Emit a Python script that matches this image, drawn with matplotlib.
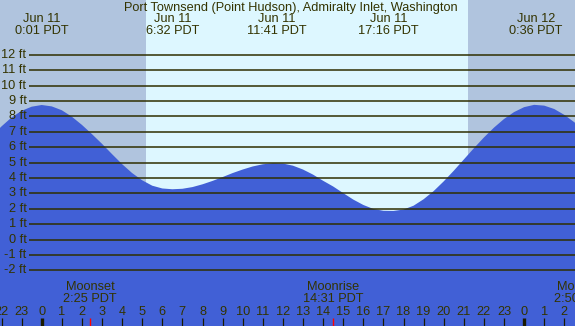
import matplotlib
matplotlib.use("Agg")
import matplotlib.pyplot as plt
import matplotlib.transforms as mtransforms

plt.rcParams['font.family'] = ['Liberation Sans', 'DejaVu Sans']

# ---- data (hours since Jun 11 00:00 PDT, heights in ft) ----
times = [-2.5, -2.0, -1.5, -1.0, -0.5, 0.0, 0.5, 1.0, 1.5, 2.0, 2.5, 3.0, 3.5, 4.0,
         4.5, 5.0, 5.5, 6.0, 6.5, 7.0, 7.5, 8.0, 8.5, 9.0, 9.5, 10.0, 10.5, 11.0,
         11.5, 12.0, 12.5, 13.0, 13.5, 14.0, 14.5, 15.0, 15.5, 16.0, 16.5, 17.0,
         17.5, 18.0, 18.5, 19.0, 19.5, 20.0, 20.5, 21.0, 21.5, 22.0, 22.5, 23.0,
         23.5, 24.0, 24.5, 25.0, 25.5, 26.0, 26.5, 27.0]
heights = [6.70, 7.35, 7.93, 8.36, 8.63, 8.74, 8.65, 8.40, 7.98, 7.45, 6.85, 6.22,
           5.55, 4.90, 4.32, 3.85, 3.50, 3.32, 3.27, 3.30, 3.41, 3.59, 3.81, 4.06,
           4.32, 4.55, 4.75, 4.89, 4.96, 4.94, 4.80, 4.55, 4.22, 3.82, 3.45, 3.02,
           2.60, 2.25, 1.99, 1.87, 1.86, 1.95, 2.20, 2.62, 3.15, 3.78, 4.47, 5.20,
           5.93, 6.63, 7.27, 7.83, 8.28, 8.60, 8.75, 8.70, 8.48, 8.10, 7.62, 7.05]

extreme_times = [0.017, 6.533, 11.683, 17.267, 24.6]
extreme_dates = ["Jun 11", "Jun 11", "Jun 11", "Jun 11", "Jun 12"]
extreme_labels = ["0:01 PDT", "6:32 PDT", "11:41 PDT", "17:16 PDT", "0:36 PDT"]

sunrise = 5.19
sunset = 21.2

moon_times = [2.417, 14.517, 26.83]
moon_names = ["Moonset", "Moonrise", "Moonset"]
moon_labels = ["2:25 PDT", "14:31 PDT", "2:50 PDT"]

ft_levels = list(range(-2, 13))
hour_ticks = list(range(-2, 27))

title = "Port Townsend (Point Hudson), Admiralty Inlet, Washington"

# ---- style ----
W, H = 575, 326
night_c = "#b0c4de"
day_c = "#ddf7ff"
water_c = "#4160d6"
line_c = "#2f2f00"
text_c = "#333300"
fs = 9.2

fig = plt.figure(figsize=(W / 100, H / 100), dpi=100)
ax = fig.add_axes([0, 0, 1, 1])
ax.set_axis_off()

x0_px, px_per_h = 41.7, 20.1
y0_px, px_per_ft = 239.6, 15.4
xmin = -x0_px / px_per_h
xmax = (W - x0_px) / px_per_h
ymax = y0_px / px_per_ft
ymin = (y0_px - H) / px_per_ft
ax.set_xlim(xmin, xmax)
ax.set_ylim(ymin, ymax)

ax.axvspan(xmin, sunrise, color=night_c, zorder=0, lw=0)
ax.axvspan(sunrise, sunset, color=day_c, zorder=0, lw=0)
ax.axvspan(sunset, xmax, color=night_c, zorder=0, lw=0)

ax.fill_between(times, heights, ymin - 1, color=water_c, lw=0, zorder=1)

line_start = (29 - x0_px) / px_per_h
for f in ft_levels:
    ax.plot([line_start, xmax], [f, f], color=line_c, lw=1.1, zorder=2,
            solid_capstyle='butt')
    ax.text(line_start - 0.13, f, f"{f} ft", ha='right', va='center',
            fontsize=fs, color=text_c, zorder=3)

trans = mtransforms.blended_transform_factory(ax.transData, ax.transAxes)

def fy(py):
    return (H - py) / H

ax.text(0.5 * (xmin + xmax) + 0.15, fy(7.5), title, transform=trans, ha='center',
        va='center', fontsize=fs, color=text_c, zorder=4)
for t, d, l in zip(extreme_times, extreme_dates, extreme_labels):
    ax.text(t, fy(19.5), d, transform=trans, ha='center', va='center',
            fontsize=fs, color=text_c, zorder=4)
    ax.text(t, fy(31.5), l, transform=trans, ha='center', va='center',
            fontsize=fs, color=text_c, zorder=4)

for t, n, l in zip(moon_times, moon_names, moon_labels):
    ax.text(t, fy(287.5), n, transform=trans, ha='center', va='center',
            fontsize=fs, color=text_c, zorder=4)
    ax.text(t, fy(299.5), l, transform=trans, ha='center', va='center',
            fontsize=fs, color=text_c, zorder=4)
    ax.plot([t, t], [fy(318), 0], transform=trans, color='#ff0000', lw=1.0,
            zorder=4, solid_capstyle='butt')

for h in hour_ticks:
    lab = str(h % 24)
    ax.text(h, fy(312), lab, transform=trans, ha='center', va='center',
            fontsize=fs, color=text_c, zorder=4)
    lw = 2.4 if h % 24 == 0 else 0.9
    ax.plot([h, h], [fy(318), 0], transform=trans, color='#1a1a00', lw=lw,
            zorder=4, solid_capstyle='butt')

fig.savefig("out.png", dpi=100)
